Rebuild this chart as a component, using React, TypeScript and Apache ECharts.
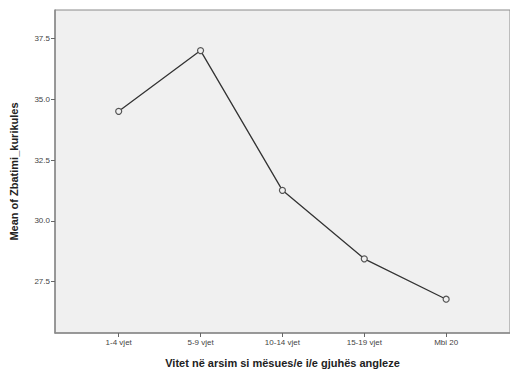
import React, { useEffect, useRef } from "react";
import * as echarts from "echarts";

const categories = ["1-4 vjet", "5-9 vjet", "10-14 vjet", "15-19 vjet", "Mbi 20"];
const meanValues = [34.51, 37.01, 31.26, 28.44, 26.78];
const yTicks = [27.5, 30.0, 32.5, 35.0, 37.5];
const xTicks = [0, 1, 2, 3, 4];

export default function App() {
  const ref = useRef<HTMLDivElement>(null);
  useEffect(() => {
    const chart = echarts.init(ref.current!, null, { renderer: "svg" });
    const font = "'Liberation Sans', Arial, sans-serif";
    chart.setOption({
      animation: false,
      backgroundColor: "#ffffff",
      grid: {
        left: 52,
        top: 10,
        right: -6,
        bottom: 36,
        show: true,
        backgroundColor: "#f0f0f0",
        borderColor: "#8a8a8a",
        borderWidth: 1,
      },
      xAxis: {
        type: "value",
        min: -0.778,
        max: 4.78,
        name: "Vitet në arsim si mësues/e i/e gjuhës angleze",
        nameLocation: "middle",
        nameGap: 24,
        nameTextStyle: { fontFamily: font, fontSize: 11, fontWeight: "bold", color: "#222" },
        axisLine: { show: true, onZero: false, lineStyle: { color: "#8a8a8a", width: 1.5 } },
        splitLine: { show: false },
        axisTick: { show: true, length: 4, customValues: xTicks, lineStyle: { color: "#666" } },
        axisLabel: {
          customValues: xTicks,
          formatter: (v: number) => categories[Math.round(v)] ?? "",
          fontFamily: font,
          fontSize: 8,
          color: "#444",
          margin: 5,
        },
      },
      yAxis: {
        type: "value",
        min: 25.39,
        max: 38.68,
        name: "Mean of Zbatimi_kurikules",
        nameLocation: "middle",
        nameGap: 36,
        nameTextStyle: { fontFamily: font, fontSize: 11, fontWeight: "bold", color: "#222" },
        axisLine: { show: true, onZero: false, lineStyle: { color: "#8a8a8a", width: 1.5 } },
        splitLine: { show: false },
        axisTick: { show: true, length: 4, customValues: yTicks, lineStyle: { color: "#666" } },
        axisLabel: {
          customValues: yTicks,
          formatter: (v: number) => v.toFixed(1),
          fontFamily: font,
          fontSize: 8,
          color: "#444",
          margin: 5,
        },
      },
      series: [
        {
          type: "line",
          data: meanValues.map((v, i) => [i, v]),
          symbol: "circle",
          symbolSize: 6,
          lineStyle: { color: "#333", width: 1.3 },
          itemStyle: { color: "#f0f0f0", borderColor: "#555", borderWidth: 1.2 },
        },
      ],
    });
    return () => chart.dispose();
  }, []);
  return (
    <div
      ref={ref}
      style={{ position: "fixed", left: 0, top: 0, width: 510, height: 373 }}
    />
  );
}
